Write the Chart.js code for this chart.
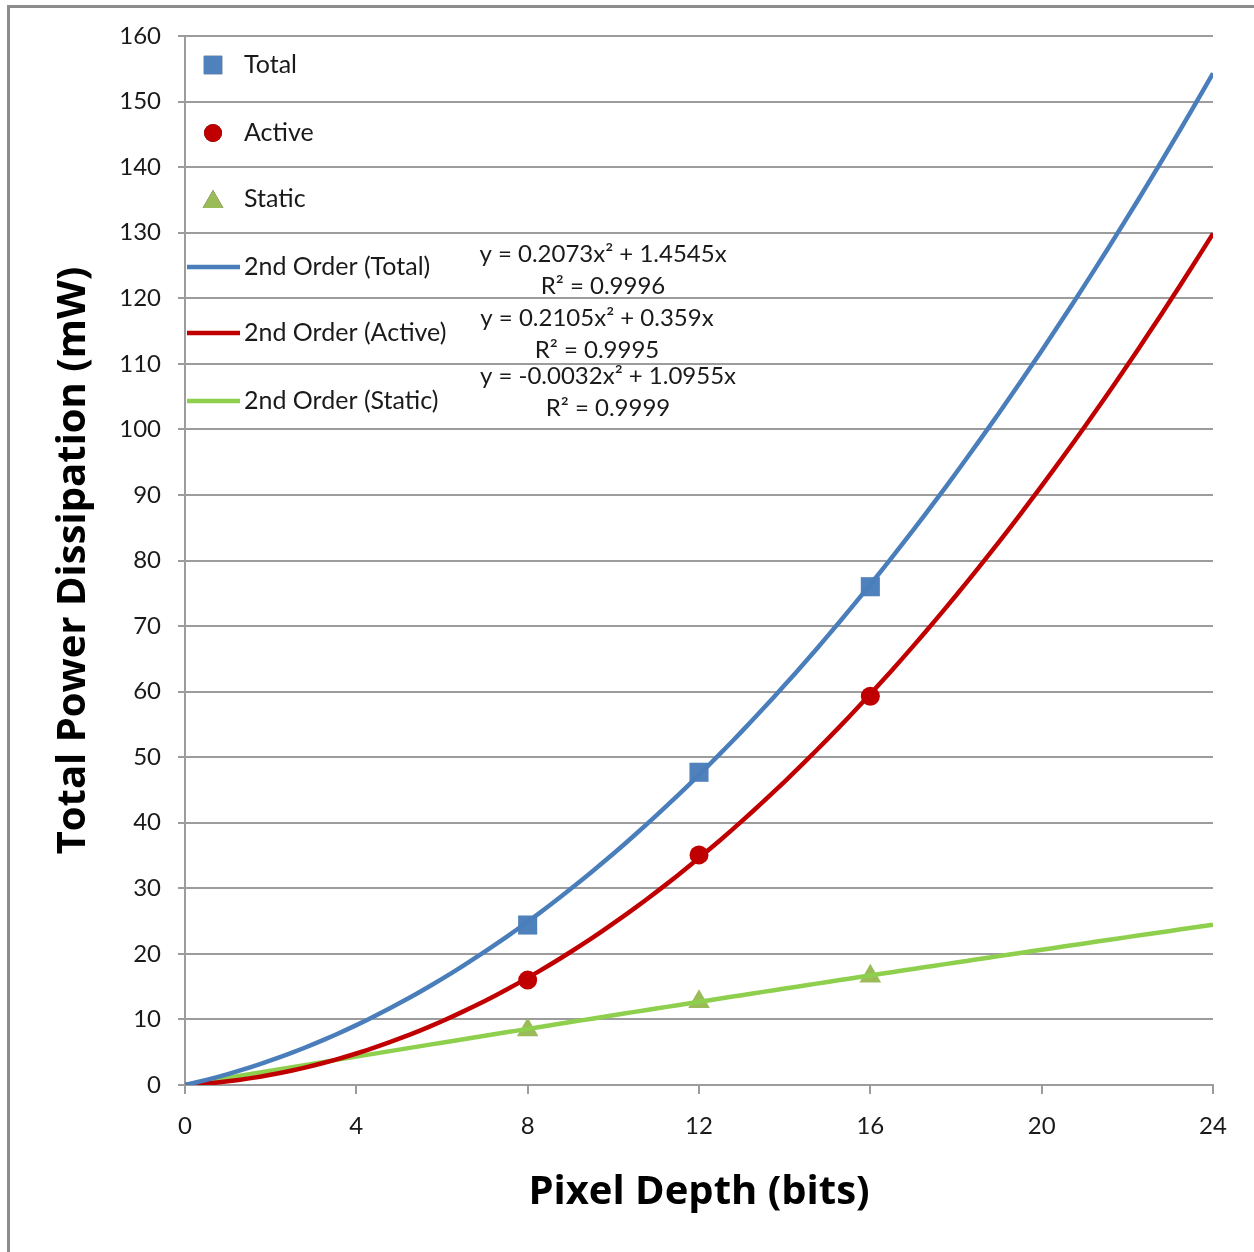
<!DOCTYPE html>
<html>
<head>
<meta charset="utf-8">
<title>Power vs pixel depth</title>
<script src="https://cdn.jsdelivr.net/npm/chart.js@4.4.1/dist/chart.umd.min.js"></script>
<style>
  html, body { margin: 0; padding: 0; background: #fff; }
  #wrap { position: relative; width: 1254px; height: 1252px; }
  #frame { position: absolute; left: 7px; top: 5px; right: -10px; bottom: -10px; border: 3px solid #8c8c8c; pointer-events: none; }
  canvas { position: absolute; left: 0; top: 0; }
</style>
</head>
<body>
<div id="wrap">
  <canvas id="lienzo" width="1254" height="1252"></canvas>
  <div id="frame"></div>
</div>
<script>
// measured points (mW) at each pixel depth
const depth = [8, 12, 16]
const total = [24.4, 47.7, 76.0]
const active = [16.0, 35.1, 59.3]
const staticP = [8.4, 12.7, 16.6]

// 2nd order fits through the origin: a*x^2 + b*x
const fitTotal = [0.2073, 1.4545]
const fitActive = [0.2105, 0.359]
const fitStatic = [-0.0032, 1.0955]

const xTicks = [0, 4, 8, 12, 16, 20, 24]
const yTicks = [0, 10, 20, 30, 40, 50, 60, 70, 80, 90, 100, 110, 120, 130, 140, 150, 160]

const eqTotal = ['y = 0.2073x² + 1.4545x', 'R² = 0.9996']
const eqActive = ['y = 0.2105x² + 0.359x', 'R² = 0.9995']
const eqStatic = ['y = -0.0032x² + 1.0955x', 'R² = 0.9999']

const FONT = 'Lato, "Open Sans", sans-serif'
const TITLE_FONT = '"Open Sans", Lato, sans-serif'
const grid = '#9c9c9c'

const puntos = (ys) => depth.map((x, i) => ({x: x, y: ys[i]}))

const curva = (c) => {
    let out = []
    for (let x = 0; x <= 24.001; x += 0.25) {
        out.push({x: x, y: c[0] * x * x + c[1] * x})
    }
    return out
}

// legend and equation text drawn inside the plot area
const extras = {
    id: 'extras',
    afterDatasetsDraw(chart) {
        const ctx = chart.ctx
        const a = chart.chartArea
        const ds = chart.data.datasets
        ctx.save()
        ctx.font = '25px ' + FONT
        ctx.fillStyle = '#1a1a1a'
        ctx.textBaseline = 'middle'
        ctx.textAlign = 'left'

        const rows = [29, 97, 163, 231, 297, 365]
        const items = [ds[3], ds[4], ds[5], ds[0], ds[1], ds[2]]
        items.forEach((d, i) => {
            const y = a.top + rows[i]
            if (d.showLine) {
                ctx.strokeStyle = d.borderColor
                ctx.lineWidth = 4.5
                ctx.beginPath()
                ctx.moveTo(a.left + 2, y)
                ctx.lineTo(a.left + 55, y)
                ctx.stroke()
            } else {
                Chart.helpers.drawPoint(ctx, {
                    pointStyle: d.pointStyle,
                    radius: d.legendRadius,
                    borderWidth: 0
                }, a.left + 28, y + (d.pointStyle === 'triangle' ? 3 : 0))
                ctx.fillStyle = d.backgroundColor
                ctx.fill()
            }
            ctx.fillStyle = '#1a1a1a'
            ctx.fillText(d.label, a.left + 59, y)
        })

        ctx.font = '24px ' + FONT
        ctx.textAlign = 'center'
        const eqs = [[eqTotal, 418, 218], [eqActive, 412, 282], [eqStatic, 423, 340]]
        eqs.forEach(([t, dx, dy]) => {
            ctx.fillText(t[0], a.left + dx, a.top + dy)
            ctx.fillText(t[1], a.left + dx, a.top + dy + 32)
        })
        ctx.restore()
    }
}

new Chart(document.getElementById('lienzo'), {
    type: 'scatter',
    data: {
        datasets: [
            {label: '2nd Order (Total)', data: curva(fitTotal), showLine: true, pointRadius: 0,
             borderColor: '#4a7ebb', borderWidth: 4.5, order: 0},
            {label: '2nd Order (Active)', data: curva(fitActive), showLine: true, pointRadius: 0,
             borderColor: '#c00000', borderWidth: 4.5, order: 0},
            {label: '2nd Order (Static)', data: curva(fitStatic), showLine: true, pointRadius: 0,
             borderColor: '#8ed04e', borderWidth: 4.5, order: 0},
            {label: 'Total', data: puntos(total), pointStyle: 'rect', pointRadius: 13.5, legendRadius: 13,
             backgroundColor: '#4f81bd', borderWidth: 0, order: 1},
            {label: 'Active', data: puntos(active), pointStyle: 'circle', pointRadius: 9.5, legendRadius: 9,
             backgroundColor: '#c00000', borderWidth: 0, order: 1},
            {label: 'Static', data: puntos(staticP), pointStyle: 'triangle', pointRadius: 12.5, legendRadius: 12,
             backgroundColor: '#9bbb59', borderWidth: 0, order: 1}
        ]
    },
    options: {
        responsive: false,
        animation: false,
        layout: {padding: {top: 36, right: 41, left: 0, bottom: 0}},
        plugins: {
            legend: {display: false},
            tooltip: {enabled: false}
        },
        scales: {
            x: {
                type: 'linear', min: 0, max: 24,
                afterBuildTicks: (s) => { s.ticks = xTicks.map(v => ({value: v})) },
                afterFit: (s) => { s.height = 167 },
                grid: {drawOnChartArea: false, color: grid, lineWidth: 2, tickLength: 9},
                border: {color: grid, width: 2},
                ticks: {font: {family: FONT, size: 24}, color: '#1a1a1a', padding: 18, maxRotation: 0},
                title: {display: true, text: 'Pixel Depth (bits)', color: '#000',
                        font: {family: TITLE_FONT, size: 40, weight: 'bold'}, padding: {top: 0, bottom: 35}}
            },
            y: {
                min: 0, max: 160,
                afterBuildTicks: (s) => { s.ticks = yTicks.map(v => ({value: v})) },
                afterFit: (s) => { s.width = 185 },
                grid: {color: grid, lineWidth: 2, tickLength: 7},
                border: {color: grid, width: 2},
                ticks: {font: {family: FONT, size: 24}, color: '#1a1a1a', padding: 17},
                title: {display: true, text: 'Total Power Dissipation (mW)', color: '#000',
                        font: {family: TITLE_FONT, size: 40, weight: 'bold'}, padding: {top: 50, bottom: 0}}
            }
        }
    },
    plugins: [extras]
})
</script>
</body>
</html>
